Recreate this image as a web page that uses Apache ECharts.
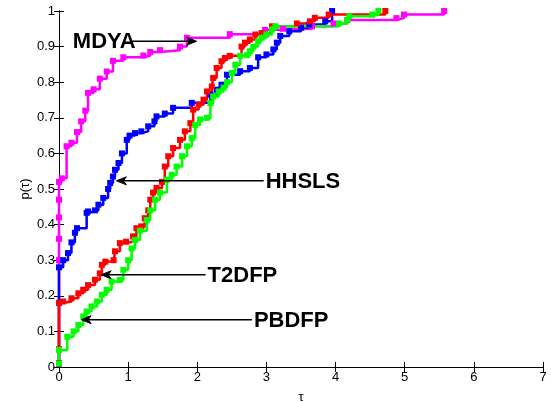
<!DOCTYPE html>
<html>
<head>
<meta charset="utf-8">
<script src="https://cdn.jsdelivr.net/npm/echarts@6/dist/echarts.min.js"></script>
<style>
  html, body { margin: 0; padding: 0; background: #fff; }
  #chart { width: 554px; height: 402px; }
</style>
</head>
<body>
<div id="chart"></div>
<script>
// Performance profiles: fraction of problems p(tau) solved within factor tau of the best solver
const solverNames = ['MDYA', 'HHSLS', 'T2DFP', 'PBDFP'];
const solverColors = ['#ff00ff', '#0000ff', '#ff0000', '#00ff00'];

const mdyaTau = [0, 0, 0, 0, 0, 0, 0.04, 0.11, 0.18, 0.26, 0.32, 0.38, 0.42, 0.50, 0.59, 0.69, 0.78, 0.93, 1.22, 1.32, 1.46, 1.75, 1.85, 2.47, 2.98, 3.24, 3.66, 3.97, 4.17, 4.88, 4.99, 5.57];
const mdyaP   = [0.01, 0.30, 0.36, 0.42, 0.47, 0.52, 0.53, 0.62, 0.63, 0.66, 0.69, 0.72, 0.77, 0.78, 0.81, 0.83, 0.86, 0.87, 0.875, 0.885, 0.89, 0.90, 0.925, 0.935, 0.947, 0.95, 0.957, 0.965, 0.975, 0.98, 0.99, 1.0];

const hhslsTau = [0, 0, 0, 0.06, 0.13, 0.18, 0.23, 0.26, 0.40, 0.42, 0.52, 0.57, 0.64, 0.71, 0.74, 0.78, 0.81, 0.86, 0.91, 0.98, 1.02, 1.10, 1.19, 1.29, 1.38, 1.41, 1.53, 1.65, 1.92, 2.19, 2.28, 2.35, 2.43, 2.62, 2.76, 2.88, 3.0, 3.10, 3.15, 3.20, 3.33, 3.50, 3.62, 3.85, 3.95];
const hhslsP   = [0.01, 0.18, 0.28, 0.30, 0.32, 0.35, 0.377, 0.39, 0.433, 0.437, 0.44, 0.456, 0.475, 0.50, 0.517, 0.535, 0.554, 0.573, 0.60, 0.638, 0.65, 0.657, 0.662, 0.676, 0.69, 0.704, 0.712, 0.728, 0.742, 0.765, 0.779, 0.793, 0.821, 0.831, 0.84, 0.87, 0.878, 0.892, 0.911, 0.93, 0.943, 0.953, 0.962, 0.971, 1.0];

const t2dfpTau = [0, 0, 0, 0.06, 0.18, 0.28, 0.35, 0.42, 0.52, 0.59, 0.62, 0.67, 0.79, 0.81, 0.88, 0.97, 1.07, 1.12, 1.19, 1.24, 1.29, 1.32, 1.36, 1.41, 1.49, 1.53, 1.58, 1.65, 1.75, 1.82, 1.90, 1.94, 2.02, 2.09, 2.14, 2.21, 2.23, 2.28, 2.35, 2.40, 2.47, 2.64, 2.69, 2.76, 2.84, 2.93, 3.08, 3.44, 3.63, 3.70, 3.90, 4.72];
const t2dfpP   = [0.01, 0.05, 0.18, 0.184, 0.193, 0.207, 0.217, 0.23, 0.245, 0.263, 0.287, 0.296, 0.30, 0.325, 0.348, 0.352, 0.367, 0.39, 0.395, 0.418, 0.44, 0.47, 0.49, 0.503, 0.52, 0.563, 0.592, 0.615, 0.638, 0.662, 0.685, 0.723, 0.737, 0.751, 0.774, 0.788, 0.812, 0.840, 0.859, 0.868, 0.874, 0.90, 0.911, 0.92, 0.934, 0.938, 0.957, 0.965, 0.971, 0.981, 0.99, 1.0];

const pbdfpTau = [0, 0, 0.12, 0.21, 0.28, 0.35, 0.40, 0.47, 0.55, 0.62, 0.69, 0.76, 0.88, 0.93, 1.0, 1.05, 1.10, 1.17, 1.27, 1.32, 1.39, 1.46, 1.56, 1.63, 1.70, 1.78, 1.85, 1.92, 1.97, 2.04, 2.14, 2.19, 2.23, 2.31, 2.38, 2.43, 2.50, 2.55, 2.62, 2.72, 2.76, 2.81, 2.88, 2.93, 3.0, 3.08, 3.13, 4.05, 4.17, 4.20, 4.53, 4.62];
const pbdfpP   = [0.01, 0.048, 0.085, 0.10, 0.118, 0.142, 0.156, 0.17, 0.184, 0.203, 0.217, 0.24, 0.245, 0.273, 0.30, 0.333, 0.357, 0.383, 0.413, 0.44, 0.47, 0.49, 0.526, 0.54, 0.563, 0.592, 0.62, 0.643, 0.68, 0.695, 0.70, 0.741, 0.76, 0.774, 0.785, 0.80, 0.826, 0.849, 0.874, 0.876, 0.887, 0.90, 0.915, 0.925, 0.934, 0.948, 0.957, 0.965, 0.975, 0.985, 0.99, 1.0];

const solverTau = [mdyaTau, hhslsTau, t2dfpTau, pbdfpTau];
const solverP = [mdyaP, hhslsP, t2dfpP, pbdfpP];

// Arrow call-outs: label, arrow tip tau, arrow tail tau, height p
const noteLabels = ['MDYA', 'HHSLS', 'T2DFP', 'PBDFP'];
const noteTipTau = [1.99, 0.83, 0.61, 0.32];
const noteTailTau = [1.05, 2.96, 2.12, 2.79];
const noteP = [0.915, 0.523, 0.259, 0.133];

const xTickMin = 0, xTickMax = 7, xTickStep = 1;
const yTickMin = 0, yTickMax = 1, yTickStep = 0.1;

const FONT = '"Liberation Sans", Arial, Helvetica, sans-serif';

const chart = echarts.init(document.getElementById('chart'), null, { renderer: 'canvas' });

const series = solverNames.map((name, i) => ({
  name: name,
  type: 'line',
  step: 'end',
  xAxisIndex: 0,
  yAxisIndex: 0,
  data: solverTau[i].map((t, k) => [t, solverP[i][k]]),
  symbol: 'rect',
  symbolSize: 6,
  showSymbol: true,
  lineStyle: { width: 2.5, color: solverColors[i] },
  itemStyle: { color: solverColors[i] },
  emphasis: { disabled: true },
  clip: false
}));

const boxAxis = {
  axisLine: { show: true, lineStyle: { color: '#000', width: 1 } },
  axisTick: { show: true, inside: true, length: 5, lineStyle: { color: '#000' } },
  splitLine: { show: false }
};

chart.setOption({
  animation: false,
  backgroundColor: '#fff',
  grid: { left: 59, right: 11, top: 11, bottom: 35, containLabel: false, outerBoundsMode: 'none' },
  xAxis: [
    Object.assign({
      type: 'value', position: 'bottom', min: xTickMin, max: xTickMax, interval: xTickStep,
      name: 'τ', nameLocation: 'middle', nameGap: 24, nameMoveOverlap: false,
      nameTextStyle: { fontFamily: FONT, fontSize: 13, color: '#000' },
      axisLabel: { fontFamily: FONT, fontSize: 13, color: '#000', margin: 4 }
    }, boxAxis),
    Object.assign({
      type: 'value', position: 'top', min: xTickMin, max: xTickMax, interval: xTickStep,
      axisLabel: { show: false }
    }, boxAxis)
  ],
  yAxis: [
    Object.assign({
      type: 'value', position: 'left', min: yTickMin, max: yTickMax, interval: yTickStep,
      name: 'p(τ)', nameLocation: 'middle', nameRotate: 90, nameGap: 27, nameMoveOverlap: false,
      nameTextStyle: { fontFamily: FONT, fontSize: 13, color: '#000' },
      axisLabel: { fontFamily: FONT, fontSize: 13, color: '#000', margin: 4 }
    }, boxAxis),
    Object.assign({
      type: 'value', position: 'right', min: yTickMin, max: yTickMax, interval: yTickStep,
      axisLabel: { show: false }
    }, boxAxis)
  ],
  series: series
});

// Draw the call-out arrows and their labels in data coordinates
function drawNotes() {
  const elems = [];
  noteLabels.forEach((label, i) => {
    const tip = chart.convertToPixel({ gridIndex: 0 }, [noteTipTau[i], noteP[i]]);
    const tail = chart.convertToPixel({ gridIndex: 0 }, [noteTailTau[i], noteP[i]]);
    const dir = tip[0] > tail[0] ? 1 : -1;
    const headLen = 10, headHalf = 4, notch = 7;
    elems.push({
      type: 'line', silent: true, z: 100,
      shape: { x1: tail[0], y1: tail[1], x2: tip[0] - dir * notch, y2: tip[1] },
      style: { stroke: '#000', lineWidth: 1.5 }
    });
    elems.push({
      type: 'polygon', silent: true, z: 100,
      shape: { points: [
        [tip[0], tip[1]],
        [tip[0] - dir * headLen, tip[1] - headHalf],
        [tip[0] - dir * notch, tip[1]],
        [tip[0] - dir * headLen, tip[1] + headHalf]
      ] },
      style: { fill: '#000', stroke: '#000', lineWidth: 1 }
    });
    const textX = dir > 0 ? tail[0] + 4 : tail[0] + 2;
    elems.push({
      type: 'text', silent: true, z: 101,
      x: textX, y: tail[1] + 1,
      style: {
        text: label,
        font: 'bold 22px ' + FONT,
        fill: '#000',
        align: dir > 0 ? 'right' : 'left',
        verticalAlign: 'middle'
      }
    });
  });
  chart.setOption({ graphic: elems });
}
drawNotes();
</script>
</body>
</html>
